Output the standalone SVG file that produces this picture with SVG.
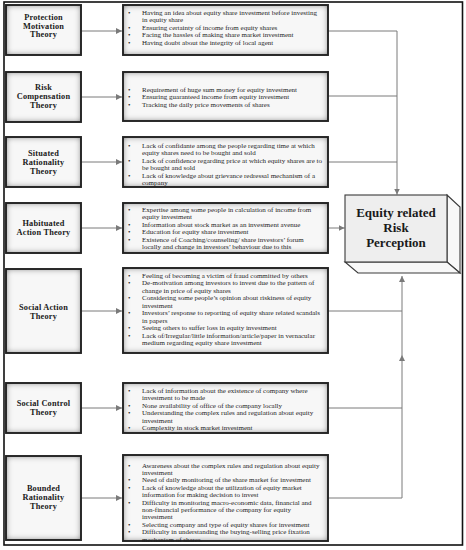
<svg xmlns="http://www.w3.org/2000/svg" width="466" height="550" viewBox="0 0 466 550">
<defs>
<style>
.bx{fill:#f7f7f7;filter:url(#inner)}
.bd{fill:none;stroke:#222;stroke-width:1.9}
.th{font-family:"Liberation Serif","Times New Roman",serif;font-weight:bold;font-size:8.3px;fill:#1a1a1a;text-anchor:middle;letter-spacing:0.2px}
.bt{font-family:"Liberation Serif","Times New Roman",serif;font-size:7px;fill:#1e1e1e}
.ln{fill:none;stroke:#7a7a7a;stroke-width:1}
.eq{font-family:"Liberation Serif","Times New Roman",serif;font-weight:bold;font-size:13px;fill:#1a1a1a;text-anchor:middle}
</style>
<filter id="inner" x="-20%" y="-20%" width="140%" height="140%">
<feFlood flood-color="#1e1e1e" result="f"/>
<feComposite in="f" in2="SourceAlpha" operator="out" result="o"/>
<feGaussianBlur in="o" stdDeviation="3" result="b"/>
<feComposite in="b" in2="SourceAlpha" operator="in" result="s"/>
<feMerge><feMergeNode in="SourceGraphic"/><feMergeNode in="s"/></feMerge>
</filter>
<marker id="ar" markerUnits="userSpaceOnUse" markerWidth="6" markerHeight="6" refX="6" refY="3" orient="auto">
<path d="M0,0 L6,3 L0,6 z" fill="#7a7a7a"/>
</marker>
</defs>
<rect x="0" y="0" width="466" height="550" fill="#ffffff"/>
<rect x="4" y="2" width="458.5" height="543" fill="none" stroke="#111" stroke-width="1.6"/>

<g id="connectors">
<path class="ln" d="M81,31 H122" marker-end="url(#ar)"/>
<path class="ln" d="M81,97 H122" marker-end="url(#ar)"/>
<path class="ln" d="M81,162 H122" marker-end="url(#ar)"/>
<path class="ln" d="M81,228 H122" marker-end="url(#ar)"/>
<path class="ln" d="M81,311 H122" marker-end="url(#ar)"/>
<path class="ln" d="M81,408 H122" marker-end="url(#ar)"/>
<path class="ln" d="M81,498 H122" marker-end="url(#ar)"/>
<path class="ln" d="M328,31 H397 V194.5" marker-end="url(#ar)"/>
<path class="ln" d="M328,96 H397"/>
<path class="ln" d="M328,162 H397"/>
<path class="ln" d="M328,228 H344.5" marker-end="url(#ar)"/>
<path class="ln" d="M328,311 H402"/>
<path class="ln" d="M328,408 H402"/>
<path class="ln" d="M328,498 H402 V355" marker-end="url(#ar)"/>
<path class="ln" d="M402,355 V276" marker-end="url(#ar)"/>
</g>

<g id="t1"><rect class="bx" x="6" y="5" width="75" height="50"/><rect class="bd" x="6" y="5" width="75" height="50"/>
<text class="th" x="43.5" y="20">Protection</text><text class="th" x="43.5" y="28.5">Motivation</text><text class="th" x="43.5" y="37">Theory</text></g>
<g id="t2"><rect class="bx" x="6" y="72" width="75" height="50"/><rect class="bd" x="6" y="72" width="75" height="50"/>
<text class="th" x="43.5" y="90">Risk</text><text class="th" x="43.5" y="99">Compensation</text><text class="th" x="43.5" y="108">Theory</text></g>
<g id="t3"><rect class="bx" x="6" y="137" width="75" height="50"/><rect class="bd" x="6" y="137" width="75" height="50"/>
<text class="th" x="43.5" y="156">Situated</text><text class="th" x="43.5" y="165">Rationality</text><text class="th" x="43.5" y="174">Theory</text></g>
<g id="t4"><rect class="bx" x="6" y="203" width="75" height="50"/><rect class="bd" x="6" y="203" width="75" height="50"/>
<text class="th" x="43.5" y="226">Habituated</text><text class="th" x="43.5" y="235">Action Theory</text></g>
<g id="t5"><rect class="bx" x="6" y="269" width="75" height="84"/><rect class="bd" x="6" y="269" width="75" height="84"/>
<text class="th" x="43.5" y="310">Social Action</text><text class="th" x="43.5" y="319">Theory</text></g>
<g id="t6"><rect class="bx" x="6" y="383" width="75" height="50"/><rect class="bd" x="6" y="383" width="75" height="50"/>
<text class="th" x="43.5" y="406">Social Control</text><text class="th" x="43.5" y="415">Theory</text></g>
<g id="t7"><rect class="bx" x="6" y="456" width="75" height="84"/><rect class="bd" x="6" y="456" width="75" height="84"/>
<text class="th" x="43.5" y="491">Bounded</text><text class="th" x="43.5" y="500">Rationality</text><text class="th" x="43.5" y="509">Theory</text></g>

<g id="b1"><rect class="bx" x="123" y="5" width="205" height="50"/><rect class="bd" x="123" y="5" width="205" height="50"/>
<text class="bt" x="128" y="14.5">•</text><text class="bt" x="142" y="14.5">Having an idea about equity share investment before investing</text>
<text class="bt" x="142" y="22">in equity share</text>
<text class="bt" x="128" y="29.5">•</text><text class="bt" x="142" y="29.5">Ensuring certainty of income from equity shares</text>
<text class="bt" x="128" y="37">•</text><text class="bt" x="142" y="37">Facing the hassles of making share market investment</text>
<text class="bt" x="128" y="44.5">•</text><text class="bt" x="142" y="44.5">Having doubt about the integrity of local agent</text></g>

<g id="b2"><rect class="bx" x="123" y="72" width="205" height="49"/><rect class="bd" x="123" y="72" width="205" height="49"/>
<text class="bt" x="128" y="91.5">•</text><text class="bt" x="142" y="91.5">Requirement of huge sum money for equity investment</text>
<text class="bt" x="128" y="99">•</text><text class="bt" x="142" y="99">Ensuring guaranteed income from equity investment</text>
<text class="bt" x="128" y="106.5">•</text><text class="bt" x="142" y="106.5">Tracking the daily price movements of shares</text></g>

<g id="b3"><rect class="bx" x="123" y="137" width="205" height="50"/><rect class="bd" x="123" y="137" width="205" height="50"/>
<text class="bt" x="128" y="147.5">•</text><text class="bt" x="142" y="147.5">Lack of confidante among the people regarding time at which</text>
<text class="bt" x="142" y="155">equity shares need to be bought and sold</text>
<text class="bt" x="128" y="162.5">•</text><text class="bt" x="142" y="162.5">Lack of confidence regarding price at which equity shares are to</text>
<text class="bt" x="142" y="170">be bought and sold</text>
<text class="bt" x="128" y="177.5">•</text><text class="bt" x="142" y="177.5">Lack of knowledge about grievance redressal mechanism of a</text>
<text class="bt" x="142" y="185">company</text></g>

<g id="b4"><rect class="bx" x="123" y="203" width="205" height="50"/><rect class="bd" x="123" y="203" width="205" height="50"/>
<text class="bt" x="128" y="211.5">•</text><text class="bt" x="142" y="211.5">Expertise among some people in calculation of income from</text>
<text class="bt" x="142" y="219">equity investment</text>
<text class="bt" x="128" y="226.5">•</text><text class="bt" x="142" y="226.5">Information about stock market as an investment avenue</text>
<text class="bt" x="128" y="234">•</text><text class="bt" x="142" y="234">Education for equity share investment</text>
<text class="bt" x="128" y="241.5">•</text><text class="bt" x="142" y="241.5">Existence of Coaching/counseling/ share investors’ forum</text>
<text class="bt" x="142" y="249">locally and change in investors’ behaviour due to this</text></g>

<g id="b5"><rect class="bx" x="123" y="268" width="205" height="85"/><rect class="bd" x="123" y="268" width="205" height="85"/>
<text class="bt" x="128" y="277.5">•</text><text class="bt" x="142" y="277.5">Feeling of becoming a victim of fraud committed by others</text>
<text class="bt" x="128" y="285">•</text><text class="bt" x="142" y="285">De-motivation among investors to invest due to the pattern of</text>
<text class="bt" x="142" y="292.5">change in price of equity shares</text>
<text class="bt" x="128" y="300">•</text><text class="bt" x="142" y="300">Considering some people’s opinion about riskiness of equity</text>
<text class="bt" x="142" y="307.5">investment</text>
<text class="bt" x="128" y="315">•</text><text class="bt" x="142" y="315">Investors’ response to reporting of equity share related scandals</text>
<text class="bt" x="142" y="322.5">in papers</text>
<text class="bt" x="128" y="330">•</text><text class="bt" x="142" y="330">Seeing others to suffer loss in equity investment</text>
<text class="bt" x="128" y="337.5">•</text><text class="bt" x="142" y="337.5">Lack of/Irregular/little information/article/paper in vernacular</text>
<text class="bt" x="142" y="345">medium regarding equity share investment</text></g>

<g id="b6"><rect class="bx" x="123" y="383" width="205" height="50"/><rect class="bd" x="123" y="383" width="205" height="50"/>
<text class="bt" x="128" y="392.5">•</text><text class="bt" x="142" y="392.5">Lack of information about the existence of company where</text>
<text class="bt" x="142" y="400">investment to be made</text>
<text class="bt" x="128" y="407.5">•</text><text class="bt" x="142" y="407.5">None availability of office of the company locally</text>
<text class="bt" x="128" y="415">•</text><text class="bt" x="142" y="415">Understanding the complex rules and regulation about equity</text>
<text class="bt" x="142" y="422.5">investment</text>
<text class="bt" x="128" y="430">•</text><text class="bt" x="142" y="430">Complexity in stock market investment</text></g>

<g id="b7"><rect class="bx" x="123" y="455" width="205" height="86"/><rect class="bd" x="123" y="455" width="205" height="86"/>
<text class="bt" x="128" y="467.5">•</text><text class="bt" x="142" y="467.5">Awareness about the complex rules and regulation about equity</text>
<text class="bt" x="142" y="474.9">investment</text>
<text class="bt" x="128" y="482.3">•</text><text class="bt" x="142" y="482.3">Need of daily monitoring of the share market for investment</text>
<text class="bt" x="128" y="489.7">•</text><text class="bt" x="142" y="489.7">Lack of knowledge about the utilization of equity market</text>
<text class="bt" x="142" y="497.1">information for making decision to invest</text>
<text class="bt" x="128" y="504.5">•</text><text class="bt" x="142" y="504.5">Difficulty in monitoring macro-economic data, financial and</text>
<text class="bt" x="142" y="511.9">non-financial performance of the company for equity</text>
<text class="bt" x="142" y="519.3">investment</text>
<text class="bt" x="128" y="526.7">•</text><text class="bt" x="142" y="526.7">Selecting company and type of equity shares for investment</text>
<text class="bt" x="128" y="534.1">•</text><text class="bt" x="142" y="534.1">Difficulty in understanding the buying-selling price fixation</text>
<text class="bt" x="142" y="541.5">mechanism of shares.</text></g>

<g id="equity">
<polygon points="447,195 460,207 460,273 447,262" fill="#f8f8f8" stroke="#3a3a3a" stroke-width="1.1"/>
<polygon points="345,262 447,262 460,273 358,273" fill="#f8f8f8" stroke="#3a3a3a" stroke-width="1.1"/>
<rect x="345" y="195" width="102" height="67" fill="#eeeeee" stroke="#3a3a3a" stroke-width="1.1"/>
<text class="eq" x="396" y="217">Equity related</text>
<text class="eq" x="396" y="231.5">Risk</text>
<text class="eq" x="396" y="247">Perception</text>
</g>
</svg>
